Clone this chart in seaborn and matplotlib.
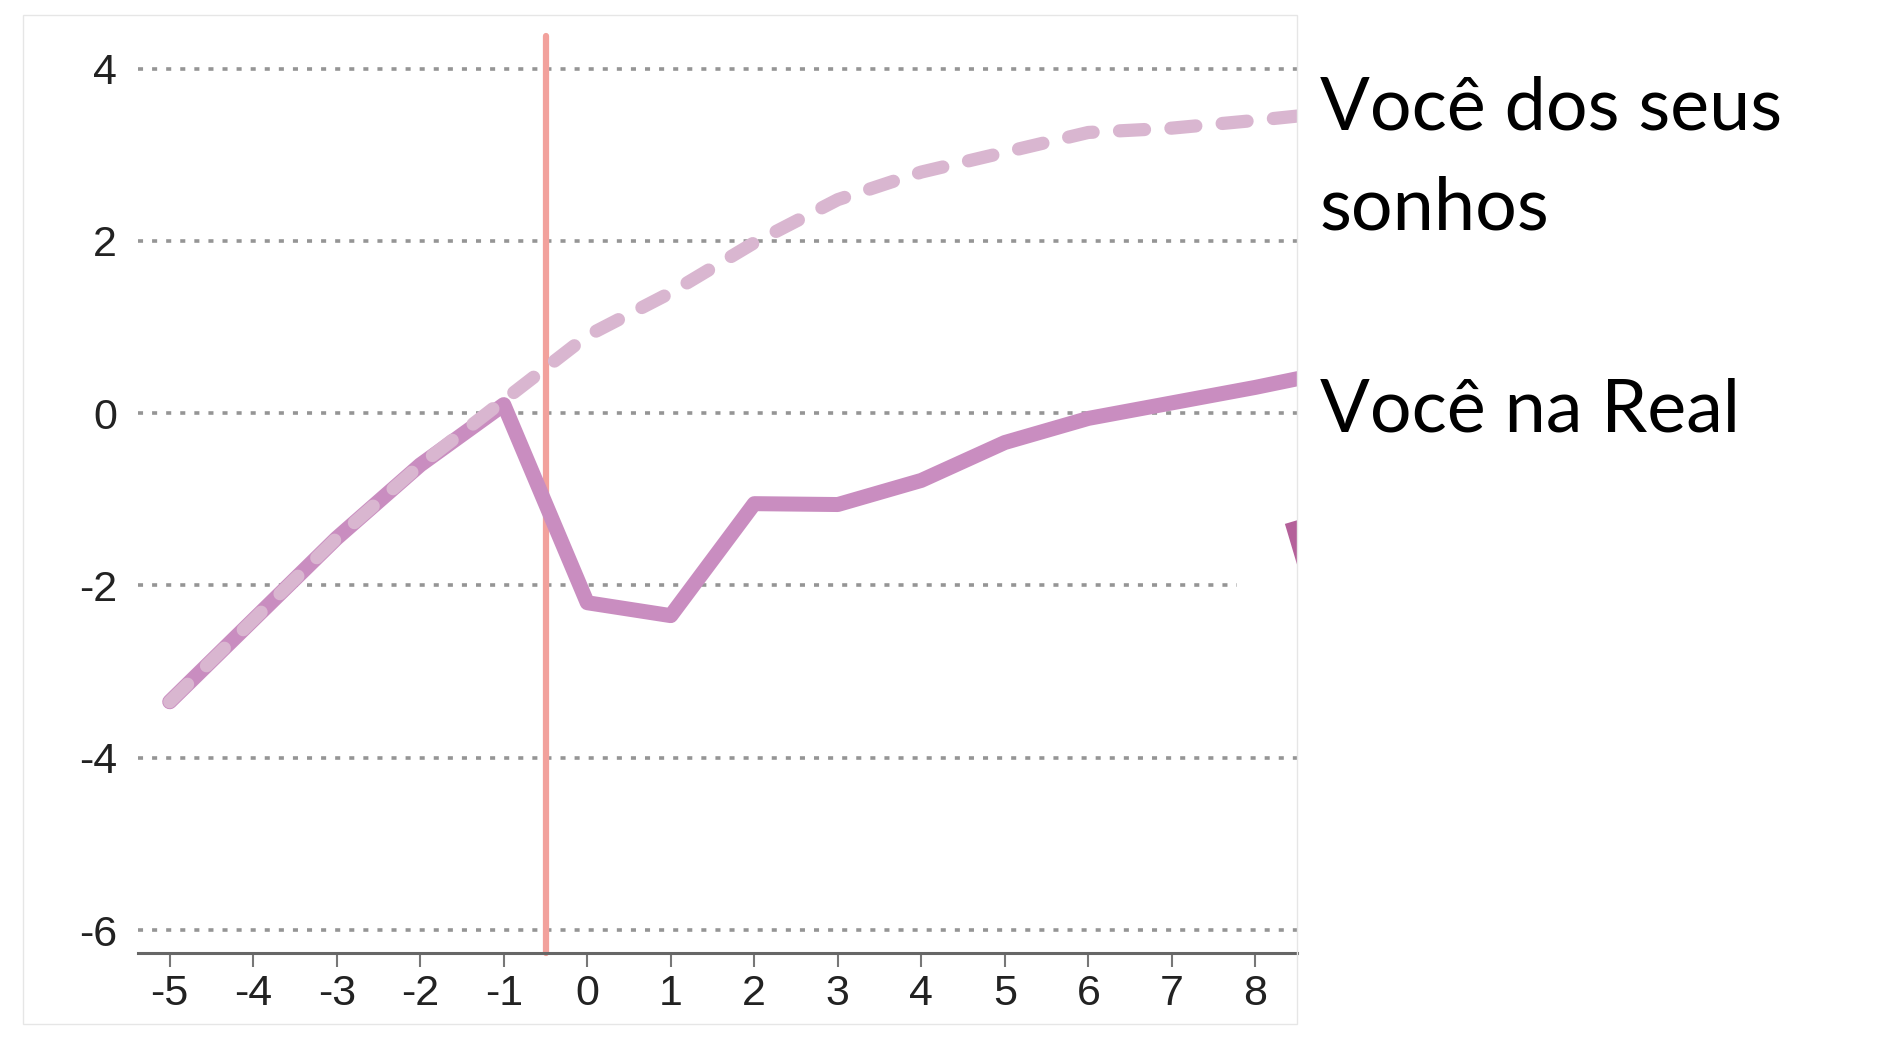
import matplotlib
matplotlib.use("Agg")
import matplotlib.pyplot as plt
import seaborn as sns
import pandas as pd
from matplotlib.patches import Rectangle

# Data
years = [-5, -4, -3, -2, -1, 0, 1, 2, 3, 4, 5, 6, 7, 8, 9]
real_you = [-3.35, -2.4, -1.45, -0.6, 0.1, -2.2, -2.35, -1.05, -1.06, -0.78, -0.34, -0.06, 0.12, 0.3, 0.5]
dream_you = [-3.35, -2.4, -1.45, -0.6, 0.15, 0.9, 1.4, 1.98, 2.48, 2.8, 3.03, 3.26, 3.31, 3.4, 3.5]
event_x = -0.5
frag_x = [8.44, 8.6]
frag_y = [-1.26, -1.78]

x_ticks = [-5, -4, -3, -2, -1, 0, 1, 2, 3, 4, 5, 6, 7, 8]
y_ticks = [4, 2, 0, -2, -4, -6]
grid_end = [8.5, 8.5, 8.5, 7.78, 8.5, 8.5]

label_dream = ["Você dos seus", "sonhos"]
label_real = ["Você na Real"]

df = pd.DataFrame({"x": years, "real": real_you, "dream": dream_you})

sns.set_theme(style="white")
plt.rcParams["axes.unicode_minus"] = False
plt.rcParams["font.family"] = ["Liberation Sans", "DejaVu Sans"]

fig = plt.figure(figsize=(18.98, 10.46), dpi=100)
fig.patch.set_facecolor("white")
ax = fig.add_axes([0.0727, 0.0889, 0.6107, 0.8767])

xlim = (-5.38, 8.5)
ylim = (-6.267, 4.38)

# faint panel border of the original screenshot
fig.patches.append(Rectangle((23 / 1898, 22 / 1046), 1274 / 1898, 1009 / 1046,
                             transform=fig.transFigure, fill=False,
                             edgecolor="#e6e6e6", lw=1))

# dotted grid lines
for yv, xe in zip(y_ticks, grid_end):
    ax.hlines(yv, xlim[0], xe, colors="#959595", lw=2.6,
              linestyles=(0, (1.4, 2.5)), zorder=1)

# the moment things changed
ax.axvline(event_x, color="#f2a19c", lw=4.5, solid_capstyle="round",
           clip_on=False, zorder=2)

sns.lineplot(data=df, x="x", y="real", ax=ax, color="#c98dc0", lw=10.8,
             solid_capstyle="round", solid_joinstyle="round", zorder=3)
sns.lineplot(data=df, x="x", y="dream", ax=ax, color="#d9b6d0", lw=9.5,
             linestyle=(0, (1.9, 2.0)), dash_capstyle="round",
             dash_joinstyle="round", zorder=4)
sns.lineplot(x=frag_x, y=frag_y, ax=ax, color="#b4619a", lw=10.8,
             solid_capstyle="butt", zorder=3)

ax.set_xlim(*xlim)
ax.set_ylim(*ylim)
ax.set_xticks(x_ticks)
ax.set_yticks(y_ticks)
ax.set_xticklabels([str(t) for t in x_ticks])
ax.set_yticklabels([str(t) for t in y_ticks])
ax.set_xlabel("")
ax.set_ylabel("")

for s in ["top", "right", "left"]:
    ax.spines[s].set_visible(False)
ax.spines["bottom"].set_color("#666666")
ax.spines["bottom"].set_linewidth(2.2)

ax.tick_params(axis="x", length=10, width=1.5, color="#777777", pad=5,
               labelsize=31, labelcolor="#222222", bottom=True)
ax.tick_params(axis="y", length=0, pad=15, labelsize=31, labelcolor="#222222")

# labels on the right
txt_x = 1320 / 1898
for line, base in zip(label_dream, [130, 230]):
    fig.text(txt_x, (1046 - base) / 1046, line, fontsize=53, family="Lato",
             color="black", va="baseline", ha="left")
for line, base in zip(label_real, [432]):
    fig.text(txt_x, (1046 - base) / 1046, line, fontsize=53, family="Lato",
             color="black", va="baseline", ha="left")

fig.savefig("out.png", dpi=100, facecolor="white")
plt.close()
